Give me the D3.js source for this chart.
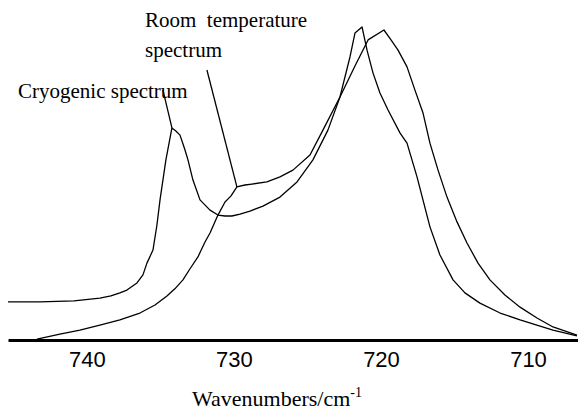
<!DOCTYPE html>
<html>
<head>
<meta charset="utf-8">
<script src="https://cdn.jsdelivr.net/npm/d3@7/dist/d3.min.js"></script>
<style>
  html, body { margin: 0; padding: 0; background: #fff; }
  svg { display: block; }
</style>
</head>
<body>
<svg id="chart" width="578" height="414"></svg>
<script>
// Wavenumber (cm^-1) and relative absorbance
const cryoWavenumbers = [745.37, 743.20, 740.88, 739.12, 738.37, 737.76, 737.28, 736.60, 736.19, 735.92, 735.51, 735.24, 735.03, 734.63, 734.22, 733.95, 733.67, 733.33, 733.13, 732.79, 732.31, 731.63, 731.09, 730.61, 730.14, 729.59, 728.91, 728.03, 726.87, 725.71, 724.63, 723.61, 722.79, 722.11, 721.77, 721.29, 720.95, 720.54, 720.07, 719.52, 718.71, 718.23, 717.55, 716.67, 715.99, 715.10, 714.29, 713.27, 711.90, 710.54, 709.18, 708.30, 706.67];
const cryoAbsorbance = [0.123, 0.123, 0.126, 0.135, 0.142, 0.152, 0.161, 0.184, 0.210, 0.248, 0.290, 0.371, 0.452, 0.581, 0.684, 0.674, 0.661, 0.613, 0.581, 0.516, 0.452, 0.419, 0.403, 0.400, 0.400, 0.406, 0.416, 0.432, 0.461, 0.510, 0.581, 0.677, 0.784, 0.913, 0.990, 1.010, 0.935, 0.861, 0.797, 0.742, 0.668, 0.635, 0.526, 0.365, 0.274, 0.194, 0.152, 0.119, 0.087, 0.065, 0.045, 0.032, 0.013];

const roomWavenumbers = [743.40, 741.84, 740.48, 739.12, 737.76, 736.40, 735.37, 734.56, 734.02, 733.47, 733.00, 732.45, 731.97, 731.63, 731.09, 730.61, 730.20, 729.80, 729.25, 728.78, 727.76, 726.87, 725.99, 724.83, 723.95, 722.79, 721.77, 720.88, 719.80, 719.32, 718.84, 718.23, 717.69, 717.14, 716.67, 716.12, 715.51, 714.83, 714.15, 713.40, 712.59, 711.57, 710.54, 709.39, 708.30, 706.67];
const roomAbsorbance = [0.003, 0.019, 0.032, 0.048, 0.065, 0.087, 0.113, 0.142, 0.165, 0.194, 0.229, 0.268, 0.316, 0.345, 0.403, 0.445, 0.465, 0.494, 0.500, 0.503, 0.510, 0.526, 0.548, 0.597, 0.677, 0.784, 0.884, 0.968, 1.000, 0.968, 0.935, 0.881, 0.806, 0.732, 0.635, 0.548, 0.461, 0.381, 0.313, 0.248, 0.194, 0.145, 0.106, 0.071, 0.042, 0.016];

const xTicks = [740, 730, 720, 710];
const xDomain = [745.37, 706.60];
const xTitle = "Wavenumbers/cm";
const xTitleSup = "-1";

// Annotations: label anchor and pointer [from (wavenumber, absorbance) to (wavenumber, absorbance)]
const roomLabelLines = ["Room\u00a0\u00a0temperature", "spectrum"];
const roomLabelAt = [736.05, 1.0106];
const roomPointer = [[731.84, 0.871], [729.80, 0.494]];
const cryoLabel = "Cryogenic spectrum";
const cryoLabelAt = [744.69, 0.7806];
const cryoPointer = [[734.83, 0.806], [734.22, 0.684]];

const svg = d3.select("#chart");
const x = d3.scaleLinear().domain(xDomain).range([8, 578]);
const y = d3.scaleLinear().domain([0, 1]).range([340, 30]);

const line = d3.line().x(d => x(d[0])).y(d => y(d[1])).curve(d3.curveLinear);

const cryo = cryoWavenumbers.map((w, i) => [w, cryoAbsorbance[i]]);
const room = roomWavenumbers.map((w, i) => [w, roomAbsorbance[i]]);

svg.append("path").datum(cryo).attr("d", line)
  .attr("fill", "none").attr("stroke", "#000").attr("stroke-width", 1.3).attr("stroke-linejoin", "round");
svg.append("path").datum(room).attr("d", line)
  .attr("fill", "none").attr("stroke", "#000").attr("stroke-width", 1.3).attr("stroke-linejoin", "round");

// Axis
const axis = d3.axisBottom(x).tickValues(xTicks).tickSize(0).tickPadding(11).tickFormat(d3.format("d"));
const gx = svg.append("g").attr("transform", "translate(0,340)").call(axis);
gx.select(".domain").attr("stroke", "#000").attr("stroke-width", 3);
gx.selectAll(".tick text")
  .attr("font-family", "Liberation Sans, Arial, sans-serif")
  .attr("font-size", 22).attr("fill", "#000");

// Axis title
const t = svg.append("text")
  .attr("x", 277).attr("y", 406)
  .attr("text-anchor", "middle")
  .attr("font-family", "Liberation Serif, Times New Roman, serif")
  .attr("font-size", 22).attr("fill", "#000");
t.append("tspan").text(xTitle);
t.append("tspan").attr("dy", -9).attr("font-size", 14).text(xTitleSup);

// Annotations
const serif = "Liberation Serif, Times New Roman, serif";
const rl = svg.append("text")
  .attr("font-family", serif).attr("font-size", 21).attr("fill", "#000");
roomLabelLines.forEach((s, i) => {
  rl.append("tspan").attr("x", x(roomLabelAt[0])).attr("y", y(roomLabelAt[1]) + i * 30).text(s);
});
svg.append("text")
  .attr("x", x(cryoLabelAt[0])).attr("y", y(cryoLabelAt[1]))
  .attr("font-family", serif).attr("font-size", 21).attr("fill", "#000")
  .text(cryoLabel);

[roomPointer, cryoPointer].forEach(p => {
  svg.append("line")
    .attr("x1", x(p[0][0])).attr("y1", y(p[0][1]))
    .attr("x2", x(p[1][0])).attr("y2", y(p[1][1]))
    .attr("stroke", "#000").attr("stroke-width", 1.3);
});
</script>
</body>
</html>
